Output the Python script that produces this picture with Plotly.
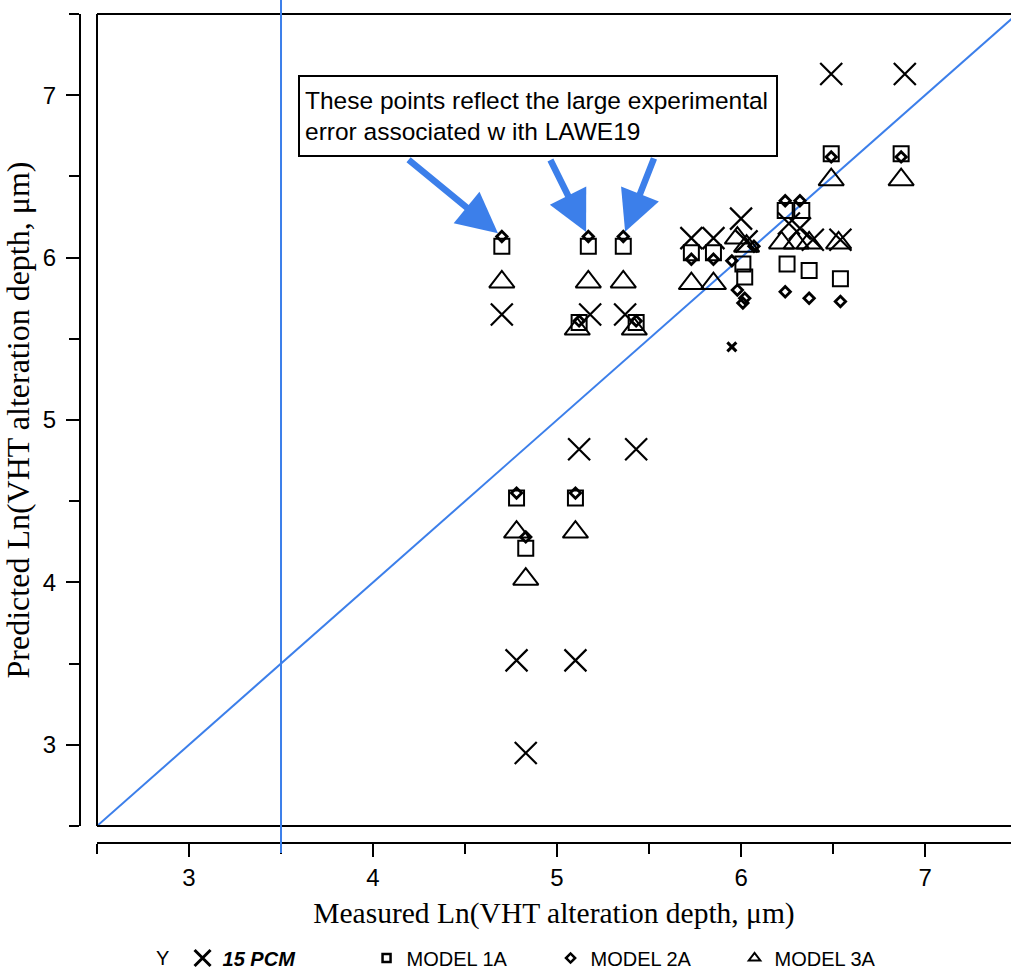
import plotly.graph_objects as go

# ---------------- data ----------------
pcm_x = [4.70, 4.78, 4.83, 5.10, 5.12, 5.43, 5.18, 5.37, 5.73, 5.85, 6.00, 6.03, 6.26, 6.32, 6.39, 6.54, 6.49, 6.89]
pcm_y = [5.65, 3.52, 2.95, 3.52, 4.82, 4.82, 5.65, 5.65, 6.12, 6.12, 6.24, 6.10, 6.21, 6.18, 6.11, 6.11, 7.13, 7.13]

pcm_small_x = [5.95]
pcm_small_y = [5.45]

m1a_x = [4.70, 4.78, 4.83, 5.10, 5.12, 5.43, 5.17, 5.36, 5.73, 5.85, 6.01, 6.02, 6.24, 6.33, 6.25, 6.37, 6.54, 6.49, 6.87]
m1a_y = [6.07, 4.52, 4.21, 4.52, 5.60, 5.60, 6.07, 6.07, 6.03, 6.03, 5.96, 5.88, 6.29, 6.29, 5.96, 5.92, 5.87, 6.64, 6.64]

m2a_x = [4.70, 4.78, 4.83, 5.10, 5.12, 5.43, 5.17, 5.36, 5.73, 5.85, 5.95, 6.07, 5.98, 6.02, 6.01, 6.24, 6.32, 6.24, 6.37, 6.54, 6.49, 6.87]
m2a_y = [6.13, 4.55, 4.28, 4.55, 5.61, 5.61, 6.13, 6.13, 5.99, 5.99, 5.98, 6.07, 5.80, 5.75, 5.72, 6.35, 6.35, 5.79, 5.75, 5.73, 6.62, 6.62]

m3a_x = [4.70, 4.78, 4.83, 5.10, 5.11, 5.42, 5.17, 5.36, 5.73, 5.85, 5.98, 6.03, 6.22, 6.30, 6.37, 6.53, 6.49, 6.87]
m3a_y = [5.85, 4.31, 4.02, 4.31, 5.56, 5.56, 5.85, 5.85, 5.84, 5.84, 6.12, 6.07, 6.09, 6.09, 6.09, 6.09, 6.48, 6.48]

# points called out by the note (indices into MODEL 2A)
called_out = [0, 6, 7]
arrow_tails = [(4.185, 6.61), (4.96, 6.61), (5.53, 6.62)]

x_range = [2.5, 7.467]
y_range = [2.5, 7.5]
diag = [2.5, 7.5]
x_ref_line = 3.5

note_text = "These points reflect the large experimental<br>error associated w ith LAWE19"
x_title = "Measured Ln(VHT alteration depth, μm)"
y_title = "Predicted Ln(VHT alteration depth, μm)"

BLUE = "#3C7FEA"
BLACK = "#000000"

fig = go.Figure()

# diagonal y = x
fig.add_trace(go.Scatter(x=diag, y=diag, mode="lines", line=dict(color=BLUE, width=2),
                         showlegend=False, hoverinfo="skip"))

fig.add_trace(go.Scatter(x=m3a_x, y=m3a_y, mode="markers", showlegend=False,
                         marker=dict(symbol="triangle-up-open", size=22, color=BLACK, line=dict(width=2, color=BLACK))))
fig.add_trace(go.Scatter(x=m1a_x, y=m1a_y, mode="markers", showlegend=False,
                         marker=dict(symbol="square-open", size=15, color=BLACK, line=dict(width=2, color=BLACK))))
fig.add_trace(go.Scatter(x=m2a_x, y=m2a_y, mode="markers", showlegend=False,
                         marker=dict(symbol="diamond-open", size=8, color=BLACK, line=dict(width=2.8, color=BLACK))))
fig.add_trace(go.Scatter(x=pcm_x, y=pcm_y, mode="markers", showlegend=False,
                         marker=dict(symbol="x-thin-open", size=22, color=BLACK, line=dict(width=2.2, color=BLACK))))
fig.add_trace(go.Scatter(x=pcm_small_x, y=pcm_small_y, mode="markers", showlegend=False,
                         marker=dict(symbol="x-thin-open", size=9, color=BLACK, line=dict(width=3, color=BLACK))))

# legend-only entries
fig.add_trace(go.Scatter(x=[None], y=[None], mode="markers", name="<b><i>15 PCM</i></b>",
                         marker=dict(symbol="x-thin-open", size=16, color=BLACK, line=dict(width=3, color=BLACK))))
fig.add_trace(go.Scatter(x=[None], y=[None], mode="markers", name="MODEL 1A",
                         marker=dict(symbol="square-open", size=8, color=BLACK, line=dict(width=2.5, color=BLACK))))
fig.add_trace(go.Scatter(x=[None], y=[None], mode="markers", name="MODEL 2A",
                         marker=dict(symbol="diamond-open", size=7, color=BLACK, line=dict(width=2.5, color=BLACK))))
fig.add_trace(go.Scatter(x=[None], y=[None], mode="markers", name="MODEL 3A",
                         marker=dict(symbol="triangle-up-open", size=10, color=BLACK, line=dict(width=2, color=BLACK))))

W, H = 1011, 973
ml, mr, mt, mb = 80, 0, 14, 130
pw, ph = W - ml - mr, H - mt - mb
x_dom0 = (97 - ml) / pw
y_dom0 = (843 - 826) / ph

shapes = [
    # frame (left, top, bottom)
    dict(type="line", xref="x domain", yref="y domain", x0=0, x1=0, y0=0, y1=1, line=dict(color=BLACK, width=2)),
    dict(type="line", xref="x domain", yref="y domain", x0=0, x1=1, y0=1, y1=1, line=dict(color=BLACK, width=2)),
    dict(type="line", xref="x domain", yref="y domain", x0=0, x1=1, y0=0, y1=0, line=dict(color=BLACK, width=2)),
    # vertical reference line
    dict(type="line", xref="x", yref="paper", x0=x_ref_line, x1=x_ref_line, y0=-0.012, y1=1.02,
         line=dict(color=BLUE, width=2)),
]

annotations = [
    dict(text=note_text, xref="paper", yref="paper",
         x=(538 - ml) / pw, y=(843 - 116) / ph, xanchor="center", yanchor="middle",
         showarrow=False, align="left", width=466, height=68,
         font=dict(family="Liberation Sans, Arial", size=24.5, color=BLACK),
         bordercolor=BLACK, borderwidth=2, borderpad=5, bgcolor="white"),
]
for idx, (tx, ty) in zip(called_out, arrow_tails):
    annotations.append(dict(text="", x=m2a_x[idx], y=m2a_y[idx], xref="x", yref="y",
                            ax=tx, ay=ty, axref="x", ayref="y", showarrow=True,
                            arrowhead=2, arrowsize=1.25, arrowwidth=6.5, arrowcolor=BLUE, standoff=5))

fig.update_layout(
    width=W, height=H,
    margin=dict(l=ml, r=mr, t=mt, b=mb, pad=0, autoexpand=False),
    paper_bgcolor="white", plot_bgcolor="white",
    font=dict(family="Liberation Sans, Arial", color=BLACK),
    xaxis=dict(domain=[x_dom0, 1], range=x_range, anchor="free", position=0, automargin=False,
               showgrid=False, zeroline=False, showline=True, linecolor=BLACK, linewidth=2,
               ticks="outside", ticklen=13, tickwidth=2, tickcolor=BLACK,
               tickmode="linear", tick0=3, dtick=1,
               minor=dict(ticks="outside", ticklen=10, tickwidth=2, tickcolor=BLACK, dtick=0.5, tick0=2.5, showgrid=False),
               tickfont=dict(size=24, family="Liberation Sans, Arial"),
               title=dict(text=x_title, font=dict(family="Liberation Serif, Times New Roman", size=29.5), standoff=12)),
    yaxis=dict(domain=[y_dom0, 1], range=y_range, anchor="free", position=0, automargin=False,
               showgrid=False, zeroline=False, showline=True, linecolor=BLACK, linewidth=2,
               ticks="outside", ticklen=13, tickwidth=2, tickcolor=BLACK,
               tickmode="linear", tick0=3, dtick=1, ticklabelstandoff=5,
               minor=dict(ticks="outside", ticklen=10, tickwidth=2, tickcolor=BLACK, dtick=0.5, tick0=2.5, showgrid=False),
               tickfont=dict(size=24, family="Liberation Sans, Arial"),
               title=dict(text=y_title, font=dict(family="Liberation Serif, Times New Roman", size=32), standoff=4)),
    legend=dict(orientation="h", x=(154 - ml) / pw, xanchor="left", y=(843 - 958) / ph, yanchor="middle",
                title=dict(text="Y ", font=dict(size=20)), font=dict(size=20, family="Liberation Sans, Arial"),
                entrywidth=139, bgcolor="rgba(0,0,0,0)"),
    shapes=shapes,
    annotations=annotations,
)

fig.write_html("out.html")
